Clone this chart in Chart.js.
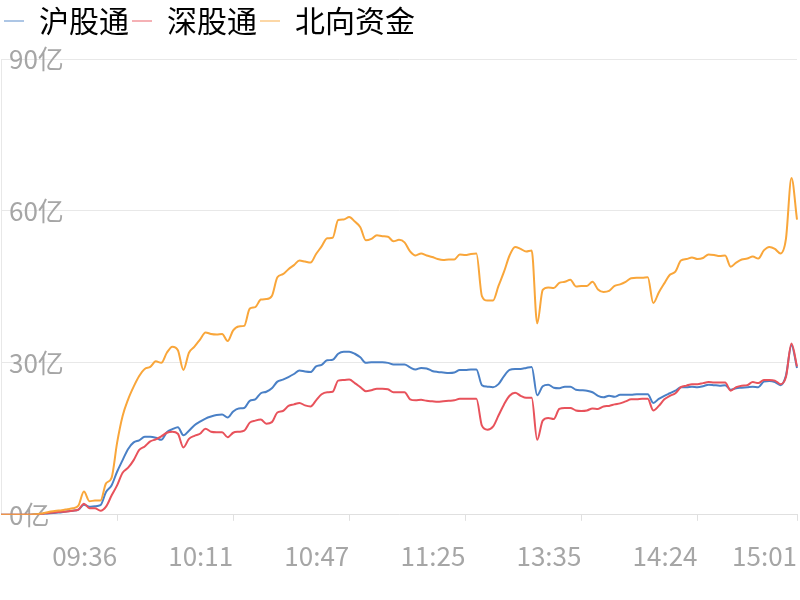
<!DOCTYPE html>
<html>
<head>
<meta charset="utf-8">
<script src="https://cdn.jsdelivr.net/npm/chart.js@4.4.1/dist/chart.umd.min.js"></script>
<style>
html, body { margin: 0; padding: 0; background: #fff; }
#wrap { width: 800px; height: 600px; }
</style>
</head>
<body>
<div id="wrap"><canvas id="flow-chart"></canvas></div>
<script>
// x positions that carry a time label, and the labels themselves
var tickIndex = [21, 42, 63, 84, 105, 126, 144];
var tickLabels = ['09:36', '10:11', '10:47', '11:25', '13:35', '14:24', '15:01'];

// y ticks (亿)
var yTicks = [0, 30, 60, 90];

// 沪股通
var shValues = [
	0, 0, 0, 0, 0, 0,
	0.1, 0.15, 0.2, 0.3, 0.4, 0.5, 0.7, 0.8,
	1.0, 2.0, 1.6, 1.7, 1.9, 4.5, 5.8,
	8.5, 10.8, 13.0, 14.3, 14.7, 15.4, 15.4, 15.2, 14.8, 16.3,
	16.9, 17.3, 15.7, 16.6, 17.7, 18.4, 19.0, 19.4, 19.7, 19.8,
	19.2, 20.4, 21.0, 21.1, 22.5, 22.8, 24.0, 24.3, 25.0, 26.3,
	26.7, 27.2, 27.8, 28.5, 28.3, 28.2, 29.3, 29.6, 30.5, 30.6,
	31.8, 32.2, 32.2, 31.8, 31.1, 30.0, 30.1, 30.1, 30.1, 30.0,
	29.7, 29.7, 29.7, 29.1, 28.7, 29.0, 28.9, 28.4, 28.2, 28.1,
	28.0, 28.1, 28.6, 28.6, 28.7, 28.7, 25.6, 25.3, 25.2, 25.8,
	27.4, 28.6, 28.8, 28.8, 29.0, 29.2, 23.6, 25.4, 25.7, 25.1,
	25.0, 25.3, 25.3, 24.7, 24.6, 24.5, 24.2, 23.5, 23.2, 23.5,
	23.3, 23.7, 23.7, 23.7, 23.8, 23.8, 23.8, 22.1, 22.9, 23.5,
	24.0, 24.5, 25.2, 25.2, 25.3, 25.2, 25.4, 25.7, 25.6, 25.5,
	25.6, 24.7, 25.0, 25.1, 25.2, 25.3, 25.2, 26.3, 26.4, 26.2,
	25.6, 27.5, 33.5, 29.0
];

// 深股通
var szValues = [
	0, 0, 0, 0, 0, 0, 0, 0,
	0.3, 0.4, 0.5, 0.6, 0.65, 0.8,
	1.0, 2.2, 1.3, 1.3, 0.8, 1.6, 3.8,
	5.8, 8.3, 9.3, 10.8, 12.8, 13.5, 14.5, 14.9, 15.5, 16.2,
	16.4, 16.0, 13.3, 15.0, 15.6, 16.0, 17.0, 16.4, 16.3, 16.3,
	15.3, 16.2, 16.4, 16.6, 18.2, 18.6, 18.8, 18.0, 18.3, 20.2,
	20.5, 21.5, 21.8, 22.1, 21.6, 21.4, 22.6, 23.8, 24.2, 24.3,
	26.5, 26.6, 26.7, 26.0, 25.2, 24.4, 24.6, 24.9, 24.9, 24.8,
	24.2, 24.2, 24.2, 22.8, 22.6, 22.7, 22.5, 22.4, 22.3, 22.4,
	22.5, 22.6, 22.9, 22.9, 22.9, 22.9, 17.6, 16.8, 17.4, 19.6,
	21.8, 23.5, 24.1, 23.5, 23.1, 23.1, 14.8, 18.6, 19.1, 18.9,
	20.9, 21.1, 21.1, 20.6, 20.5, 20.6, 21.0, 20.9, 21.4, 21.5,
	21.8, 22.0, 22.4, 22.8, 22.8, 22.9, 22.9, 20.6, 21.5, 22.8,
	23.5, 24.0, 25.2, 25.5, 25.8, 25.8, 26.0, 26.2, 26.1, 26.1,
	26.1, 24.5, 25.2, 25.5, 25.6, 26.2, 26.0, 26.6, 26.6, 26.5,
	25.8, 27.2, 33.8, 29.3
];

// 北向资金
var northValues = [
	0, 0, 0, 0, 0, 0,
	0.1, 0.2, 0.4, 0.65, 0.8, 0.9, 1.1, 1.3,
	1.8, 4.6, 2.7, 2.8, 2.8, 6.2, 7.3,
	14.2, 19.5, 22.8, 25.3, 27.4, 28.8, 29.2, 30.3, 30.0, 32.0,
	33.2, 32.5, 28.6, 32.0, 33.2, 34.6, 36.0, 35.7, 35.6, 35.7,
	34.3, 36.4, 37.2, 37.3, 40.7, 41.0, 42.5, 42.6, 43.2, 46.9,
	47.5, 48.5, 49.3, 50.2, 50.0, 49.8, 51.5, 53.0, 54.6, 54.7,
	58.2, 58.3, 58.8, 57.9, 56.8, 54.2, 54.5, 55.2, 55.0, 54.9,
	54.0, 54.3, 53.8, 52.0, 51.2, 51.6, 51.2, 50.9, 50.5, 50.3,
	50.4, 50.4, 51.4, 51.3, 51.5, 51.6, 43.2, 42.3, 42.3, 45.2,
	48.0, 51.2, 52.9, 52.5, 52.0, 52.2, 37.8, 44.4, 44.9, 44.8,
	45.8, 46.0, 46.4, 45.1, 45.2, 45.2, 46.0, 44.5, 44.0, 44.2,
	45.2, 45.5, 46.0, 46.7, 46.8, 46.8, 46.9, 41.8, 43.9, 45.7,
	47.4, 48.0, 50.2, 50.5, 50.8, 50.5, 50.7, 51.4, 51.3, 51.1,
	51.2, 49.0, 49.8, 50.4, 50.6, 51.0, 50.6, 52.2, 52.9, 52.5,
	51.6, 54.5, 66.5, 58.3
];

var seriesNames = ['沪股通', '深股通', '北向资金'];
var lineColors = ['#4a80c6', '#e8525b', '#f9a63a'];
var legendColors = ['rgba(74,128,198,.45)', 'rgba(232,82,91,.45)', 'rgba(249,166,58,.45)'];

var categories = shValues.map(function(v, i) {
	var k = tickIndex.indexOf(i);
	return k >= 0 ? tickLabels[k] : '';
});

var fontFamily = '"Noto Sans CJK SC", "Noto Sans", sans-serif';

// push the plot down below the legend
var legendSpacing = {
	id: 'legendSpacing',
	beforeInit: function(chart) {
		var fit = chart.legend.fit;
		chart.legend.fit = function() {
			fit.call(this);
			this.height += 13;
		};
	}
};

// order: lower is drawn on top (北向资金 over the two others)
function makeSet(i, values, order) {
	return {
		label: seriesNames[i],
		data: values,
		order: order,
		borderColor: lineColors[i],
		backgroundColor: legendColors[i],
		borderWidth: 2,
		pointRadius: 0,
		pointHoverRadius: 0,
		tension: 0.25,
		cubicInterpolationMode: 'monotone',
		fill: false
	};
}

var chartData = {
	labels: categories,
	datasets: [
		makeSet(0, shValues, 2),
		makeSet(1, szValues, 1),
		makeSet(2, northValues, 0)
	]
};

var chartOptions = {
	responsive: true,
	maintainAspectRatio: false,
	animation: false,
	layout: {
		padding: { left: 1, right: 3, top: 3, bottom: 8 }
	},
	plugins: {
		tooltip: { enabled: false },
		legend: {
			position: 'top',
			align: 'start',
			labels: {
				boxWidth: 20,
				boxHeight: 2,
				padding: 3,
				color: '#333',
				font: { family: fontFamily, size: 30 },
				generateLabels: function(chart) {
					return chart.data.datasets.map(function(ds, i) {
						return {
							text: ds.label,
							fillStyle: legendColors[i],
							strokeStyle: legendColors[i],
							lineWidth: 0,
							datasetIndex: i,
							hidden: false
						};
					});
				}
			}
		}
	},
	scales: {
		x: {
			type: 'category',
			offset: false,
			afterFit: function(scale) {
				// labels are right-aligned to their ticks; no side padding needed
				scale.paddingLeft = 0;
				scale.paddingRight = 0;
			},
			grid: {
				drawOnChartArea: false,
				drawTicks: true,
				tickLength: 6,
				color: '#e0e0e0'
			},
			border: { display: true, color: '#e0e0e0' },
			ticks: {
				autoSkip: false,
				maxRotation: 0,
				minRotation: 0,
				align: 'end',
				padding: 20,
				color: '#a6a6a6',
				font: { family: fontFamily, size: 26 },
				callback: function(val) {
					var l = this.getLabelForValue(val);
					return l === '' ? null : l;
				}
			}
		},
		y: {
			min: yTicks[0],
			max: yTicks[yTicks.length - 1],
			afterBuildTicks: function(scale) {
				scale.ticks = yTicks.map(function(v) { return { value: v }; });
			},
			afterFit: function(scale) {
				scale.width = 0;
			},
			grid: {
				color: '#e8e8e8',
				drawTicks: false
			},
			border: { display: true, color: '#e8e8e8' },
			ticks: {
				mirror: true,
				padding: 8,
				color: '#a6a6a6',
				font: { family: fontFamily, size: 26 },
				callback: function(v) { return v + '亿'; }
			}
		}
	}
};

var ctx = document.getElementById('flow-chart');
var flowChart = new Chart(ctx, {
	type: 'line',
	data: chartData,
	options: chartOptions,
	plugins: [legendSpacing]
});
</script>
</body>
</html>
